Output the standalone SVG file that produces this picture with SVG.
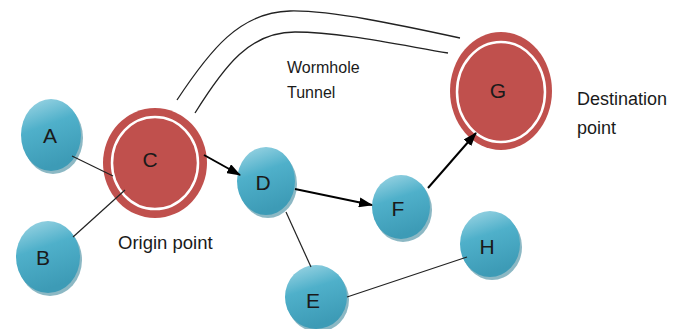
<svg xmlns="http://www.w3.org/2000/svg" width="684" height="329" viewBox="0 0 684 329">
<style>
.lbl{font-family:"Liberation Sans",Arial,sans-serif;font-size:21px;fill:#1a1a1a;text-anchor:middle;dominant-baseline:central}
.txt{font-family:"Liberation Sans",Arial,sans-serif;fill:#1a1a1a}
.blue{fill:url(#bg)}
.shadow{fill:#2d7d93;opacity:0.55}
.red{fill:#c0504d}
.ring{fill:#c0504d;stroke:#ffffff;stroke-width:2.5}
.line{stroke:#222;stroke-width:1.2;fill:none}
.arrow{stroke:#000;stroke-width:2;fill:none;marker-end:url(#ah)}
.tunnel{stroke:#222;stroke-width:1.3;fill:none}
</style>
<defs>
<linearGradient id="bg" x1="0" y1="0" x2="0.3" y2="1">
<stop offset="0" stop-color="#a3d8e6"/>
<stop offset="0.45" stop-color="#4fb0ca"/>
<stop offset="1" stop-color="#3d9bb6"/>
</linearGradient>
<marker id="ah" viewBox="0 0 14 10" refX="13" refY="5" markerWidth="14" markerHeight="10" markerUnits="userSpaceOnUse" orient="auto">
<path d="M0,0 L14,5 L0,10 z" fill="#000"/>
</marker>
</defs>
<g id="node-A">
<ellipse class="shadow" cx="53" cy="138" rx="30" ry="36"/>
<ellipse class="blue" cx="51" cy="135" rx="30" ry="36"/>
<text class="lbl" x="50" y="135">A</text>
</g>
<g id="node-B">
<ellipse class="shadow" cx="50" cy="260" rx="32" ry="36"/>
<ellipse class="blue" cx="48" cy="257" rx="32" ry="36"/>
<text class="lbl" x="43" y="257">B</text>
</g>
<g id="node-C">
<ellipse class="red" cx="155" cy="163" rx="52" ry="55"/>
<ellipse class="ring" cx="155" cy="163" rx="43" ry="46"/>
<text class="lbl" x="150" y="159">C</text>
</g>
<g id="node-D">
<ellipse class="shadow" cx="268" cy="184" rx="29" ry="34"/>
<ellipse class="blue" cx="266" cy="181" rx="29" ry="34"/>
<text class="lbl" x="263" y="182">D</text>
</g>
<g id="node-F">
<ellipse class="shadow" cx="403" cy="210" rx="29" ry="32"/>
<ellipse class="blue" cx="401" cy="207" rx="29" ry="32"/>
<text class="lbl" x="398" y="208">F</text>
</g>
<g id="node-H">
<ellipse class="shadow" cx="492" cy="247" rx="30" ry="33"/>
<ellipse class="blue" cx="490" cy="244" rx="30" ry="33"/>
<text class="lbl" x="487" y="246">H</text>
</g>
<g id="node-E">
<ellipse class="shadow" cx="318" cy="300" rx="31" ry="32"/>
<ellipse class="blue" cx="316" cy="297" rx="31" ry="32"/>
<text class="lbl" x="313" y="300">E</text>
</g>
<g id="node-G">
<ellipse class="red" cx="501" cy="91" rx="51" ry="59"/>
<ellipse class="ring" cx="501" cy="92" rx="44" ry="50"/>
<text class="lbl" x="498" y="90">G</text>
</g>
<g id="connectors">
<path class="tunnel" d="M177,100 C210,50 240,12 290,11 C330,10 400,25 460,38"/>
<path class="tunnel" d="M195,113 C225,65 250,32 295,32 C340,32 400,45 448,53"/>
<line class="line" x1="72" y1="156" x2="113" y2="176"/>
<line class="line" x1="73" y1="237" x2="125" y2="190"/>
<line class="arrow" x1="204" y1="155" x2="240" y2="175"/>
<line class="arrow" x1="295" y1="189" x2="372" y2="205"/>
<line class="arrow" x1="428" y1="188" x2="476" y2="133"/>
<line class="line" x1="286" y1="212" x2="311" y2="267"/>
<line class="line" x1="347" y1="297" x2="467" y2="257"/>
</g>
<text class="txt" x="287" y="73" font-size="16">Wormhole</text>
<text class="txt" x="287" y="98" font-size="16">Tunnel</text>
<text class="txt" x="118" y="249" font-size="18.5">Origin point</text>
<text class="txt" x="577" y="105" font-size="18">Destination</text>
<text class="txt" x="577" y="134" font-size="18">point</text>
</svg>
